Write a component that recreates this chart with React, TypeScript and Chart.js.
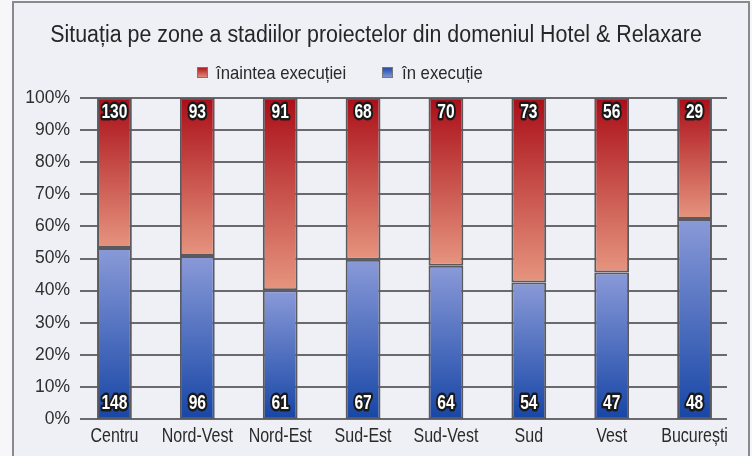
import React, { useEffect, useRef } from 'react';
import { Chart, registerables } from 'chart.js';

Chart.register(...registerables);

const titleText = 'Situația pe zone a stadiilor proiectelor din domeniul Hotel & Relaxare';
const categories = ['Centru', 'Nord-Vest', 'Nord-Est', 'Sud-Est', 'Sud-Vest', 'Sud', 'Vest', 'București'];
const inExecutie = [148, 96, 61, 67, 64, 54, 47, 48];
const inainteaExecutiei = [130, 93, 91, 68, 70, 73, 56, 29];
const seriesNames = ['în execuție', 'înaintea execuției'];
const yMax = 100;
const yStep = 10;

const bluePct = inExecutie.map((b, i) => (b / (b + inainteaExecutiei[i])) * 100);
const redPct = bluePct.map((p) => 100 - p);

const BLUE_TOP = '#8a9ad8';
const BLUE_BOT = '#1746a6';
const RED_TOP = '#aa0e18';
const RED_BOT = '#e6957f';
const FONT = '"Liberation Sans", Arial, sans-serif';

function segmentColor(dsIndex: number) {
  return (c: any) => {
    const solid = dsIndex === 0 ? '#4a6cc0' : '#c03a34';
    if (c.type !== 'data') return solid;
    const chart = c.chart;
    const ys = chart.scales && chart.scales.y;
    if (!ys || !isFinite(ys.top) || ys.height <= 0) return solid;
    const i = c.dataIndex;
    const start = dsIndex === 0 ? 0 : bluePct[i];
    const end = dsIndex === 0 ? bluePct[i] : 100;
    const yTop = ys.getPixelForValue(end);
    const yBot = ys.getPixelForValue(start);
    if (!isFinite(yTop) || !isFinite(yBot) || yTop === yBot) return solid;
    const g = chart.ctx.createLinearGradient(0, yTop, 0, yBot);
    if (dsIndex === 0) {
      g.addColorStop(0, BLUE_TOP);
      g.addColorStop(1, BLUE_BOT);
    } else {
      g.addColorStop(0, RED_TOP);
      g.addColorStop(1, RED_BOT);
    }
    return g;
  };
}

function condensed(ctx: any, text: string, x: number, y: number, sx: number, outline?: boolean) {
  ctx.save();
  ctx.translate(x, y);
  ctx.scale(sx, 1);
  if (outline) {
    ctx.lineJoin = 'round';
    ctx.strokeStyle = '#1a1a1a';
    ctx.lineWidth = 5;
    ctx.strokeText(text, 0, 0);
    ctx.fillStyle = '#ffffff';
  }
  ctx.fillText(text, 0, 0);
  ctx.restore();
}

const framePlugin = {
  id: 'frame',
  beforeDraw(chart: any) {
    const ctx = chart.ctx;
    ctx.save();
    ctx.fillStyle = '#f7f7f9';
    ctx.fillRect(0, 0, chart.width, chart.height);
    ctx.fillStyle = '#efeff6';
    ctx.fillRect(13, 2, 736, chart.height);
    ctx.strokeStyle = '#8a8a8e';
    ctx.lineWidth = 2;
    ctx.strokeRect(13, 2, 736, chart.height + 10);

    // title
    ctx.fillStyle = '#262626';
    ctx.font = '23px ' + FONT;
    ctx.textAlign = 'center';
    ctx.textBaseline = 'alphabetic';
    condensed(ctx, titleText, 376, 42, 0.93);

    // legend (order as in reference: red first, then blue)
    const items = [
      { label: seriesNames[1], top: RED_TOP, bot: RED_BOT, x: 197, tx: 216 },
      { label: seriesNames[0], top: BLUE_BOT, bot: BLUE_TOP, x: 382, tx: 402 },
    ];
    ctx.font = '19px ' + FONT;
    ctx.textAlign = 'left';
    items.forEach((it) => {
      const g = ctx.createLinearGradient(0, 67, 0, 78);
      g.addColorStop(0, it.top);
      g.addColorStop(1, it.bot);
      ctx.fillStyle = g;
      ctx.fillRect(it.x, 67, 11, 11);
      ctx.strokeStyle = '#777';
      ctx.lineWidth = 1;
      ctx.strokeRect(it.x + 0.5, 67.5, 10, 10);
      ctx.fillStyle = '#2a2a2a';
      condensed(ctx, it.label, it.tx, 78.5, 0.88);
    });
    ctx.restore();
  },
  beforeDatasetsDraw(chart: any) {
    const ctx = chart.ctx;
    const ys = chart.scales.y;
    const area = chart.chartArea;
    ctx.save();
    ctx.strokeStyle = '#6a6a6e';
    ctx.lineWidth = 2;
    ys.ticks.forEach((t: any) => {
      const y = Math.round(ys.getPixelForValue(t.value));
      ctx.beginPath();
      ctx.moveTo(area.left + 7, y);
      ctx.lineTo(area.right - 9, y);
      ctx.stroke();
    });
    ctx.restore();
  },
  afterDatasetsDraw(chart: any) {
    const ctx = chart.ctx;
    const xs = chart.scales.x;
    const m0 = chart.getDatasetMeta(0).data;
    const m1 = chart.getDatasetMeta(1).data;
    ctx.save();
    ctx.textAlign = 'center';
    ctx.textBaseline = 'middle';
    ctx.font = 'bold 20px ' + FONT;
    categories.forEach((_, i) => {
      const b = m0[i];
      const r = m1[i];
      if (b) condensed(ctx, String(inExecutie[i]), b.x, b.base - 16, 0.78, true);
      if (r) condensed(ctx, String(inainteaExecutiei[i]), r.x, r.y + 14, 0.78, true);
    });
    // category labels
    ctx.font = '19.5px ' + FONT;
    ctx.fillStyle = '#2a2a2a';
    categories.forEach((lab, i) => {
      condensed(ctx, lab, xs.getPixelForValue(i), 437, 0.82);
    });
    ctx.restore();
  },
};

export default function App() {
  const ref = useRef<HTMLCanvasElement | null>(null);
  useEffect(() => {
    if (!ref.current) return;
    const chart = new Chart(ref.current, {
      type: 'bar',
      data: {
        labels: categories,
        datasets: [
          {
            label: seriesNames[0],
            data: bluePct,
            backgroundColor: segmentColor(0),
            borderColor: '#5a5a5e',
            borderWidth: 2,
            borderSkipped: false,
            barPercentage: 0.42,
            categoryPercentage: 1,
          },
          {
            label: seriesNames[1],
            data: redPct,
            backgroundColor: segmentColor(1),
            borderColor: '#5a5a5e',
            borderWidth: 2,
            borderSkipped: false,
            barPercentage: 0.42,
            categoryPercentage: 1,
          },
        ],
      },
      options: {
        responsive: false,
        animation: false,
        devicePixelRatio: 1,
        layout: { padding: { top: 98, right: 16, left: 0, bottom: 0 } },
        plugins: {
          legend: { display: false },
          title: { display: false },
          tooltip: { enabled: false },
        },
        scales: {
          x: {
            stacked: true,
            grid: { display: false, drawTicks: false },
            border: { display: false },
            ticks: { display: false, maxRotation: 0, minRotation: 0, autoSkip: false },
            afterFit: (s: any) => {
              s.height = 37;
            },
          },
          y: {
            stacked: true,
            min: 0,
            max: yMax,
            grid: { display: false, drawTicks: false },
            border: { display: false },
            ticks: {
              stepSize: yStep,
              color: '#2f2f2f',
              padding: 3,
              font: { family: FONT, size: 17.5 },
              callback: (v: any) => v + '%',
            },
            afterFit: (s: any) => {
              s.width = 73;
            },
          },
        },
      },
      plugins: [framePlugin],
    });
    return () => chart.destroy();
  }, []);
  return (
    <div style={{ position: 'absolute', left: 0, top: 0, width: 752, height: 456 }}>
      <canvas ref={ref} width={752} height={456} style={{ display: 'block', width: 752, height: 456 }} />
    </div>
  );
}
